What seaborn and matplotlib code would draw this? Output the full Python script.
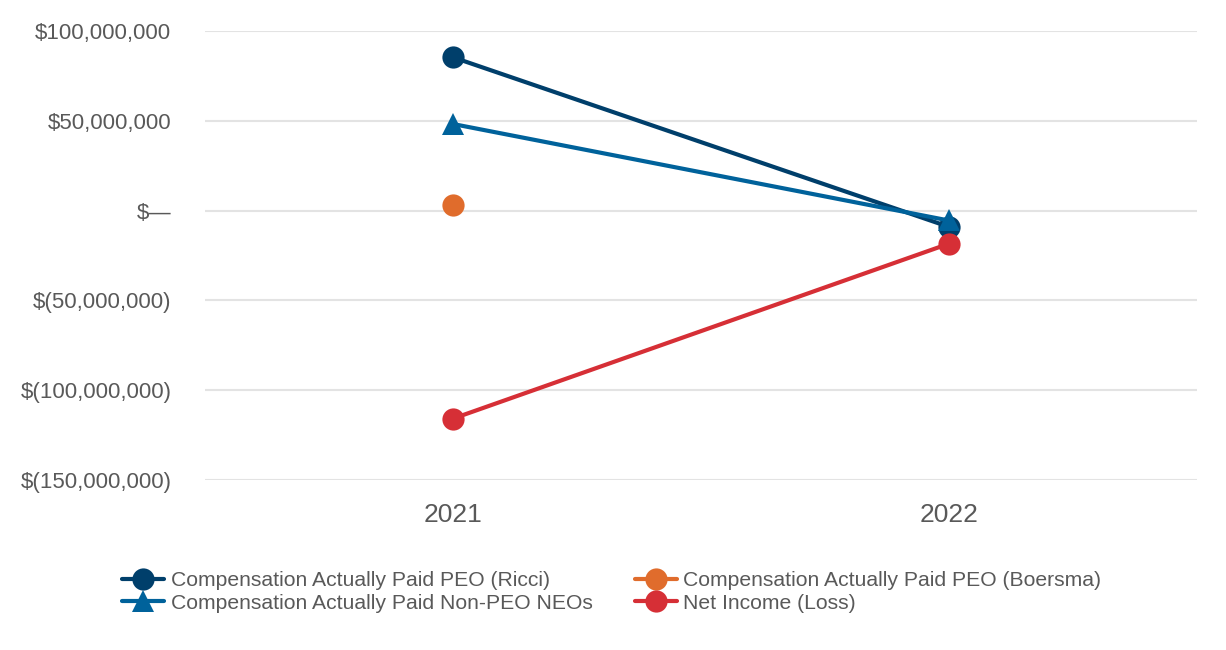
import matplotlib.pyplot as plt
import seaborn as sns
import numpy as np
import pandas as pd
from matplotlib.ticker import FuncFormatter

years = ["2021", "2022"]
ricci = [85.5e6, -9.0e6]
non_peo = [48.3e6, -5.5e6]
boersma = [3.0e6, np.nan]
net_income = [-116.0e6, -18.5e6]

series = [
    ("Compensation Actually Paid PEO (Ricci)", ricci, "#003f6b", "o"),
    ("Compensation Actually Paid Non-PEO NEOs", non_peo, "#00629b", "^"),
    ("Compensation Actually Paid PEO (Boersma)", boersma, "#e06c2c", "o"),
    ("Net Income (Loss)", net_income, "#d62f36", "o"),
]

sns.set_theme(style="white")
plt.rcParams['font.family'] = ['Liberation Sans', 'DejaVu Sans']

fig = plt.figure(figsize=(12.26, 6.5), dpi=100)
ax = fig.add_axes([0.167, 0.262, 0.809, 0.690])

x = np.arange(len(years))
for name, vals, color, mk in series:
    df = pd.DataFrame({"x": x, "y": vals})
    sns.lineplot(data=df, x="x", y="y", ax=ax, color=color, marker=mk,
                 markersize=16, markeredgewidth=0, linewidth=3, label=name)

def money(v, pos):
    if v == 0:
        return "$\u2014"
    if v < 0:
        return "$({:,.0f})".format(-v)
    return "${:,.0f}".format(v)

ax.set_ylim(-150e6, 100e6)
ax.set_yticks(np.arange(-150e6, 100e6 + 1, 50e6))
ax.yaxis.set_major_formatter(FuncFormatter(money))
ax.set_xlim(-0.5, 1.5)
ax.set_xticks(x)
ax.set_xticklabels(years)
ax.set_xlabel("")
ax.set_ylabel("")
ax.grid(axis="y", color="#e3e3e3", linewidth=1.5)
ax.set_axisbelow(True)
for s in ax.spines.values():
    s.set_visible(False)
ax.tick_params(axis="y", labelsize=16, colors="#595959", length=0, pad=24)
ax.tick_params(axis="x", labelsize=19, colors="#595959", length=0, pad=17)

handles, labels = ax.get_legend_handles_labels()
ax.get_legend().remove()
fig.legend(handles, labels, ncol=2, loc="upper left", bbox_to_anchor=(0.084, 0.15),
           frameon=False, fontsize=15.2, labelcolor="#595959",
           handlelength=2.0, handletextpad=0.3, columnspacing=2.0,
           labelspacing=0.15, markerscale=1.0)

plt.savefig("out.png", dpi=100)
plt.close()
